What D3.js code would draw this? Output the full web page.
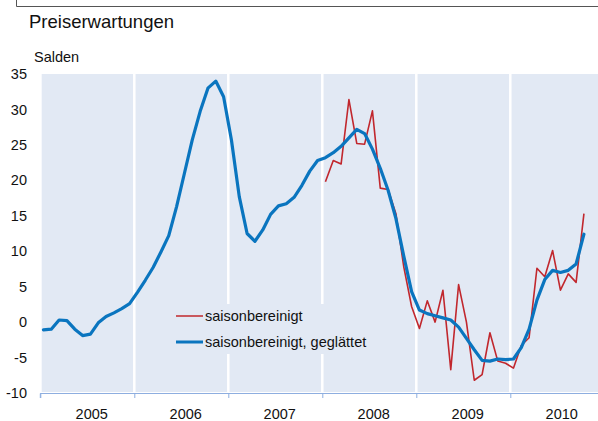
<!DOCTYPE html>
<html>
<head>
<meta charset="utf-8">
<script src="https://cdn.jsdelivr.net/npm/d3@7"></script>
<style>
  body { margin: 0; background: #fff; }
  svg { display: block; font-family: "Liberation Sans", Arial, sans-serif; }
</style>
</head>
<body>
<div id="chart"></div>
<script>
// years on the x axis, monthly data from Jan 2005
const years = ["2005", "2006", "2007", "2008", "2009", "2010"]
const yTicks = [-10, -5, 0, 5, 10, 15, 20, 25, 30, 35]

// saisonbereinigt, geglättet (Jan 2005 - Oct 2010)
const smoothed = [
  -1.1, -1.0, 0.3, 0.2, -1.0, -1.9, -1.7, -0.1, 0.8, 1.3, 1.9, 2.6,
  4.2, 5.9, 7.7, 9.9, 12.2, 16.3, 21.0, 25.7, 29.7, 33.0, 34.0, 31.8,
  25.7, 17.7, 12.5, 11.4, 13.0, 15.2, 16.4, 16.7, 17.6, 19.3, 21.3, 22.8,
  23.2, 23.9, 24.8, 26.0, 27.2, 26.6, 24.4, 21.7, 18.6, 14.6, 9.3, 4.3,
  1.7, 1.2, 0.9, 0.6, 0.3, -0.7, -2.3, -3.9, -5.4, -5.5, -5.2, -5.3,
  -5.2, -3.6, -1.0, 3.1, 6.0, 7.3, 7.0, 7.3, 8.2, 12.4
]

// saisonbereinigt (Jan 2008 - Oct 2010)
const adjustedStart = 36
const adjusted = [
  19.8, 22.8, 22.3, 31.4, 25.2, 25.1, 29.8, 18.9, 18.7, 15.3, 7.8, 2.2,
  -0.9, 3.0, 0.0, 4.5, -6.7, 5.3, 0.0, -8.2, -7.4, -1.5, -5.5, -5.8,
  -6.5, -3.3, -2.2, 7.6, 6.4, 10.1, 4.5, 6.8, 5.6, 15.3
]

const legendLabels = ["saisonbereinigt", "saisonbereinigt, geglättet"]

const width = 598, height = 421
const bgColor = "#e2e9f4"
const redColor = "#c1272d"
const blueColor = "#0a75bf"

const plotLeft = 41.7, plotTop = 74, plotBottom = 393

const svg = d3.select("#chart").append("svg")
  .attr("width", width)
  .attr("height", height)

// frame line at the top
svg.append("path")
  .attr("d", "M16.5,0 V6.5 H" + width)
  .attr("fill", "none")
  .attr("stroke", "#555")
  .attr("stroke-width", 1)

svg.append("text")
  .attr("x", 29).attr("y", 28)
  .attr("font-size", 18.5)
  .attr("fill", "#111")
  .text("Preiserwartungen")

svg.append("text")
  .attr("x", 34).attr("y", 62)
  .attr("font-size", 14.5)
  .attr("fill", "#111")
  .text("Salden")

const x = d3.scaleLinear().domain([0, years.length * 12]).range([40.3, 604.3])
const y = d3.scaleLinear().domain([-10, 35]).range([plotBottom, plotTop])

const monthX = i => x(i + 0.4)

svg.append("rect")
  .attr("x", plotLeft).attr("y", plotTop)
  .attr("width", width - plotLeft).attr("height", plotBottom - plotTop - 1)
  .attr("fill", bgColor)

// white separators between years
svg.append("g")
  .selectAll("line")
  .data(d3.range(1, years.length))
  .join("line")
    .attr("x1", k => x(k * 12)).attr("x2", k => x(k * 12))
    .attr("y1", plotTop).attr("y2", plotBottom)
    .attr("stroke", "#fff")
    .attr("stroke-width", 2.5)

// y axis labels (plain hyphen for negatives)
const yAxis = svg.append("g")
  .attr("transform", "translate(27,0)")
  .call(d3.axisLeft(y).tickValues(yTicks).tickSize(0).tickPadding(0).tickFormat(d => String(d)))
yAxis.select(".domain").remove()
yAxis.selectAll("text")
  .attr("font-size", 14.5)
  .attr("font-family", "Liberation Sans, Arial, sans-serif")
  .attr("fill", "#111")

// x axis with year ticks
const xAxis = svg.append("g")
  .attr("transform", `translate(0,${plotBottom})`)
  .call(d3.axisBottom(x).tickValues(d3.range(0, years.length + 1).map(k => k * 12)).tickSize(5).tickFormat(""))
xAxis.select(".domain").attr("stroke", "#8eaee0").attr("d", `M${x(0)},5V0.5H${width}`)
xAxis.selectAll(".tick line").attr("stroke", "#8eaee0")

const xLabels = svg.append("g")
  .attr("transform", `translate(0,${plotBottom})`)
  .call(d3.axisBottom(x).tickValues(years.map((d, k) => k * 12 + 6.5)).tickSize(0).tickPadding(16)
    .tickFormat((d, k) => years[k]))
xLabels.select(".domain").remove()
xLabels.selectAll("text")
  .attr("font-size", 14.5)
  .attr("font-family", "Liberation Sans, Arial, sans-serif")
  .attr("fill", "#111")

// legend
const legend = svg.append("g")
legend.append("rect")
  .attr("x", 172).attr("y", 304).attr("width", 206).attr("height", 50)
  .attr("fill", bgColor)
const legendColors = [redColor, blueColor]
const legendWidths = [1.5, 3]
legendLabels.forEach((label, k) => {
  const ly = 316 + k * 26
  legend.append("line")
    .attr("x1", 176).attr("x2", 203)
    .attr("y1", ly).attr("y2", ly)
    .attr("stroke", legendColors[k])
    .attr("stroke-width", legendWidths[k])
  legend.append("text")
    .attr("x", 205).attr("y", ly).attr("dy", "0.35em")
    .attr("font-size", 14.5)
    .attr("fill", "#111")
    .text(label)
})

// series
const line = d3.line()
  .x(d => monthX(d.i))
  .y(d => y(d.v))

svg.append("path")
  .datum(adjusted.map((v, k) => ({ i: adjustedStart + k, v: v })))
  .attr("d", line)
  .attr("fill", "none")
  .attr("stroke", redColor)
  .attr("stroke-width", 1.6)
  .attr("stroke-linejoin", "round")

svg.append("path")
  .datum(smoothed.map((v, k) => ({ i: k, v: v })))
  .attr("d", line)
  .attr("fill", "none")
  .attr("stroke", blueColor)
  .attr("stroke-width", 3.2)
  .attr("stroke-linejoin", "round")
  .attr("stroke-linecap", "round")
</script>
</body>
</html>
